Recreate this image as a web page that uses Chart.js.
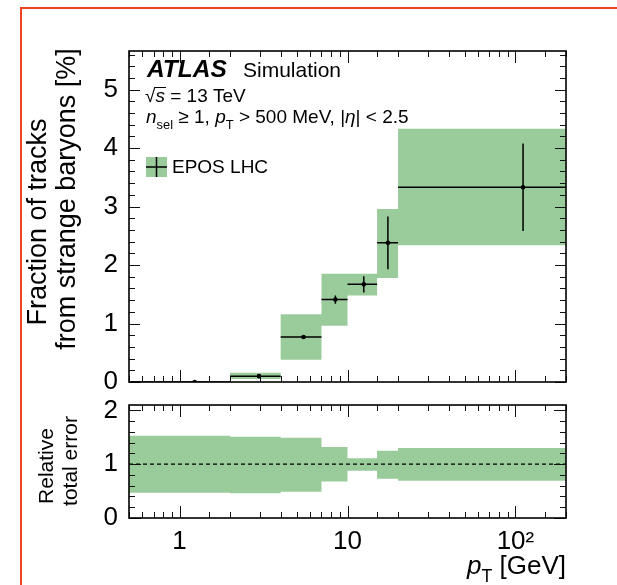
<!DOCTYPE html>
<html>
<head>
<meta charset="utf-8">
<script src="https://cdn.jsdelivr.net/npm/chart.js@4.4.1/dist/chart.umd.min.js"></script>
<style>
  html, body { margin: 0; padding: 0; background: #fff; }
  #wrap { position: relative; width: 617px; height: 585px; overflow: hidden; }
  #frame { position: absolute; left: 20px; top: 7px; width: 700px; height: 700px;
           border-top: 2px solid #f2431f; border-left: 2px solid #f2431f; }
  #top, #bottom { position: absolute; left: 0; }
  #top { top: 0; }
  #bottom { top: 394px; }
</style>
</head>
<body>
<div id="wrap">
  <div id="frame"></div>
  <canvas id="top" width="617" height="394"></canvas>
  <canvas id="bottom" width="617" height="191"></canvas>
</div>
<script>
const FONT = '"Liberation Sans", Arial, Helvetica, sans-serif';
const GREEN = '#9acb9a';

// pT bins [GeV] and the EPOS LHC prediction per bin
const binEdges = [0.5, 2, 4, 7, 10, 15, 20, 200];
const meanPt = [1.23, 2.97, 5.47, 8.47, 12.5, 17.4, 111];
const fraction = [0.0, 0.10, 0.77, 1.41, 1.67, 2.38, 3.33];
const statErr = [0.0, 0.01, 0.01, 0.07, 0.14, 0.45, 0.75];
const totalLow = [0.0, 0.05, 0.38, 0.96, 1.48, 1.78, 2.34];
const totalHigh = [0.0, 0.16, 1.16, 1.85, 1.85, 2.96, 4.33];
// relative total error band
const relLow = [0.47, 0.46, 0.49, 0.68, 0.88, 0.73, 0.69];
const relHigh = [1.53, 1.51, 1.49, 1.32, 1.11, 1.25, 1.30];

const xTickValues = [1, 10, 100];
const xTickText = ['1', '10', '10²'];

// value of each bin held from its lower edge up to the next edge
function steps(vals) {
  const pts = vals.map((v, i) => ({x: binEdges[i], y: v}));
  pts.push({x: binEdges[binEdges.length - 1], y: vals[vals.length - 1]});
  return pts;
}
// horizontal bars across each bin, broken by null points
function hBars(vals) {
  const pts = [];
  vals.forEach((v, i) => {
    pts.push({x: binEdges[i], y: v}, {x: binEdges[i + 1], y: v}, {x: binEdges[i + 1], y: null});
  });
  return pts;
}
function vBars(vals, errs) {
  const pts = [];
  vals.forEach((v, i) => {
    pts.push({x: meanPt[i], y: v - errs[i]}, {x: meanPt[i], y: v + errs[i]}, {x: meanPt[i], y: null});
  });
  return pts;
}

function isWhole(v) { return Math.abs(v - Math.round(v)) < 1e-6; }
function isDecade(v) { const l = Math.log10(v); return Math.abs(l - Math.round(l)) < 1e-6; }

// ROOT-like frame with inward ticks on all four sides
const rootAxes = {
  id: 'rootAxes',
  afterDatasetsDraw(chart, args, o) {
    const {ctx, chartArea: a, scales} = chart;
    ctx.save();
    ctx.strokeStyle = '#111';
    ctx.lineWidth = 1;
    const seg = (x1, y1, x2, y2) => { ctx.beginPath(); ctx.moveTo(x1, y1); ctx.lineTo(x2, y2); ctx.stroke(); };
    scales.x.ticks.forEach(t => {
      const px = Math.round(scales.x.getPixelForValue(t.value)) + 0.5;
      const len = isDecade(t.value) ? o.xMajor : o.xMinor;
      seg(px, a.bottom, px, a.bottom - len);
      seg(px, a.top, px, a.top + len);
    });
    scales.y.ticks.forEach(t => {
      const py = Math.round(scales.y.getPixelForValue(t.value)) + 0.5;
      const len = isWhole(t.value) ? o.yMajor : o.yMinor;
      seg(a.left, py, a.left + len, py);
      seg(a.right, py, a.right - len, py);
    });
    ctx.strokeStyle = '#000';
    ctx.lineWidth = 1.6;
    ctx.strokeRect(a.left, a.top, a.right - a.left, a.bottom - a.top);
    ctx.restore();
  }
};

// draws a list of text runs (italic / subscript) from a start point
function drawRuns(ctx, x, y, size, runs) {
  runs.forEach(r => {
    const s = r.sub ? size * 0.68 : size;
    ctx.font = (r.italic ? 'italic ' : '') + s + 'px ' + FONT;
    const dy = r.sub ? size * 0.3 : 0;
    ctx.fillText(r.t, x, y + dy);
    x += ctx.measureText(r.t).width;
  });
  return x;
}
function runsWidth(ctx, size, runs) {
  let w = 0;
  runs.forEach(r => {
    const s = r.sub ? size * 0.68 : size;
    ctx.font = (r.italic ? 'italic ' : '') + s + 'px ' + FONT;
    w += ctx.measureText(r.t).width;
  });
  return w;
}
function vText(ctx, text, x, y, size) {
  ctx.save();
  ctx.translate(x, y);
  ctx.rotate(-Math.PI / 2);
  ctx.font = size + 'px ' + FONT;
  ctx.textAlign = 'center';
  ctx.textBaseline = 'alphabetic';
  ctx.fillText(text, 0, 0);
  ctx.restore();
}

const topLabels = {
  id: 'topLabels',
  afterDraw(chart) {
    const ctx = chart.ctx;
    ctx.save();
    ctx.fillStyle = '#000';
    ctx.textBaseline = 'alphabetic';
    vText(ctx, 'Fraction of tracks', 46, 222, 27);
    vText(ctx, 'from strange baryons [%]', 75, 199, 27);

    ctx.font = 'italic bold 24.5px ' + FONT;
    ctx.fillText('ATLAS', 147, 77);
    ctx.font = '21px ' + FONT;
    ctx.fillText('Simulation', 243, 77);

    // sqrt(s) = 13 TeV
    ctx.font = '19px ' + FONT;
    ctx.fillText('√', 145, 102);
    const sx = 145 + ctx.measureText('√').width;
    ctx.font = 'italic 19px ' + FONT;
    ctx.fillText('s', sx, 102);
    const sw = ctx.measureText('s').width;
    ctx.strokeStyle = '#000';
    ctx.lineWidth = 1;
    ctx.beginPath(); ctx.moveTo(sx - 1, 87.5); ctx.lineTo(sx + sw + 1, 87.5); ctx.stroke();
    ctx.font = '19px ' + FONT;
    ctx.fillText(' = 13 TeV', sx + sw, 102);

    drawRuns(ctx, 146, 123, 19, [
      {t: 'n', italic: true}, {t: 'sel', sub: true}, {t: ' ≥ 1, '},
      {t: 'p', italic: true}, {t: 'T', sub: true}, {t: ' > 500 MeV, |'},
      {t: 'η', italic: true}, {t: '| < 2.5'}
    ]);

    // legend entry: band with marker cross
    const ds = chart.data.datasets[4];
    ctx.fillStyle = GREEN;
    ctx.fillRect(146, 157, 21, 20);
    ctx.strokeStyle = '#000';
    ctx.lineWidth = 1.5;
    ctx.beginPath();
    ctx.moveTo(146, 167); ctx.lineTo(167, 167);
    ctx.moveTo(156.5, 157); ctx.lineTo(156.5, 177);
    ctx.stroke();
    ctx.fillStyle = '#000';
    ctx.font = '19px ' + FONT;
    ctx.textBaseline = 'middle';
    ctx.fillText(ds.label, 172, 168);
    ctx.restore();
  }
};

const bottomLabels = {
  id: 'bottomLabels',
  afterDraw(chart) {
    const ctx = chart.ctx;
    ctx.save();
    ctx.fillStyle = '#000';
    vText(ctx, 'Relative', 53, 466 - 394, 21);
    vText(ctx, 'total error', 77, 461 - 394, 21);
    const runs = [{t: 'p', italic: true}, {t: 'T', sub: true}, {t: ' [GeV]'}];
    const w = runsWidth(ctx, 26, runs);
    ctx.textBaseline = 'alphabetic';
    drawRuns(ctx, chart.chartArea.right - w, 574 - 394, 26, runs);
    ctx.restore();
  }
};

// fixed box sizes so both panels share the same frame edges
function noPad(s) { s.paddingTop = 0; s.paddingBottom = 0; s.paddingLeft = 0; s.paddingRight = 0; }

const xAxis = (showLabels, height) => ({
  type: 'logarithmic',
  min: binEdges[0],
  max: binEdges[binEdges.length - 1],
  grid: {display: false, drawTicks: false},
  border: {display: false},
  ticks: {
    display: showLabels,
    autoSkip: false,
    maxRotation: 0,
    padding: 8,
    color: '#000',
    font: {family: FONT, size: 26},
    callback: v => {
      const k = xTickValues.findIndex(t => Math.abs(t - v) < 1e-9);
      return k >= 0 ? xTickText[k] : '';
    }
  },
  afterFit: s => { s.height = height; noPad(s); }
});

const yAxis = (max) => ({
  type: 'linear',
  min: 0,
  max: max,
  grid: {display: false, drawTicks: false},
  border: {display: false},
  ticks: {
    stepSize: 0.2,
    maxTicksLimit: 100,
    includeBounds: false,
    autoSkip: false,
    padding: 11,
    color: '#000',
    font: {family: FONT, size: 26},
    callback: v => isWhole(v) ? String(Math.round(v)) : ''
  },
  afterFit: s => { s.width = 129; noPad(s); }
});

const common = {
  responsive: false,
  animation: false,
  events: [],
  plugins: {legend: {display: false}, tooltip: {enabled: false}},
  elements: {point: {radius: 0}}
};

new Chart(document.getElementById('top'), {
  type: 'line',
  data: {
    datasets: [
      {data: steps(totalHigh), stepped: true, fill: '+1', backgroundColor: GREEN,
       borderColor: 'transparent', borderWidth: 0, order: 3},
      {data: steps(totalLow), stepped: true, fill: false,
       borderColor: 'transparent', borderWidth: 0, order: 3},
      {data: hBars(fraction), borderColor: '#000', borderWidth: 1.5, spanGaps: false, order: 2},
      {data: vBars(fraction, statErr), borderColor: '#000', borderWidth: 1.5, spanGaps: false, order: 2},
      {label: 'EPOS LHC', data: meanPt.map((x, i) => ({x: x, y: fraction[i]})), showLine: false,
       pointRadius: 2.3, pointBackgroundColor: '#000', pointBorderWidth: 0, order: 1}
    ]
  },
  options: Object.assign({}, common, {
    layout: {autoPadding: false, padding: {top: 51, right: 51, left: 0, bottom: 0}},
    scales: {x: xAxis(false, 12), y: yAxis(5.66)},
    plugins: Object.assign({}, common.plugins, {
      rootAxes: {xMajor: 12, xMinor: 6, yMajor: 11, yMinor: 6}
    })
  }),
  plugins: [rootAxes, topLabels]
});

new Chart(document.getElementById('bottom'), {
  type: 'line',
  data: {
    datasets: [
      {data: steps(relHigh), stepped: true, fill: '+1', backgroundColor: GREEN,
       borderColor: 'transparent', borderWidth: 0, order: 3},
      {data: steps(relLow), stepped: true, fill: false,
       borderColor: 'transparent', borderWidth: 0, order: 3},
      {data: [{x: binEdges[0], y: 1}, {x: binEdges[binEdges.length - 1], y: 1}],
       borderColor: '#000', borderWidth: 1.2, borderDash: [4, 3], order: 1}
    ]
  },
  options: Object.assign({}, common, {
    layout: {autoPadding: false, padding: {top: 11, right: 51, left: 0, bottom: 0}},
    scales: {x: xAxis(true, 67), y: yAxis(2.1)},
    plugins: Object.assign({}, common.plugins, {
      rootAxes: {xMajor: 12, xMinor: 6, yMajor: 12, yMinor: 6}
    })
  }),
  plugins: [rootAxes, bottomLabels]
});
</script>
</body>
</html>
